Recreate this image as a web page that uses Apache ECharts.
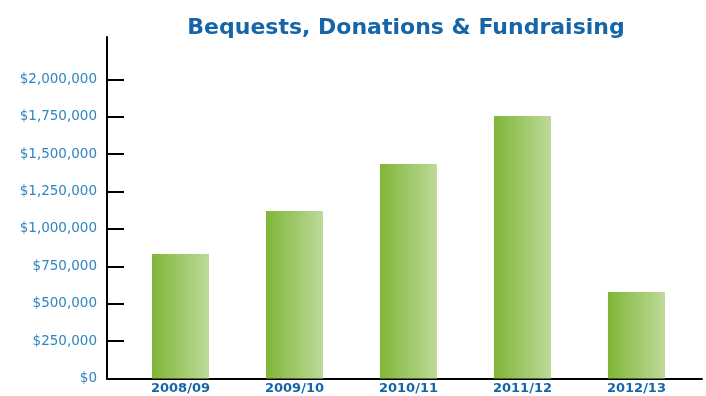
<!DOCTYPE html>
<html>
<head>
<meta charset="utf-8">
<script src="https://cdn.jsdelivr.net/npm/echarts@6/dist/echarts.min.js"></script>
<style>html,body{margin:0;padding:0;background:#fff}#c{width:706px;height:396px}</style>
</head>
<body>
<div id="c"></div>
<script>
const categories = ['2008/09', '2009/10', '2010/11', '2011/12', '2012/13'];
const values = [833000, 1120000, 1435000, 1756000, 579000];
const yTicks = [0, 250000, 500000, 750000, 1000000, 1250000, 1500000, 1750000, 2000000];
const titleText = 'Bequests, Donations & Fundraising';

const chart = echarts.init(document.getElementById('c'));
const fmt = v => '$' + v.toLocaleString('en-US');
chart.setOption({
  animation: false,
  title: {
    text: titleText,
    left: 401, top: 12, textAlign: 'center',
    textStyle: { fontFamily: 'DejaVu Sans', fontWeight: 'bold', fontSize: 22, color: '#1565a8' }
  },
  grid: { left: 107, right: 4, top: 37, bottom: 17.5 },
  xAxis: {
    type: 'value',
    min: -0.6447, max: 4.575,
    splitLine: { show: false },
    axisLine: { show: true, onZero: false, lineStyle: { color: '#000', width: 2 } },
    axisTick: { show: false },
    axisLabel: {
      customValues: categories.map((c, i) => i),
      formatter: v => categories[Math.round(v)] || '',
      fontFamily: 'DejaVu Sans', fontWeight: 'bold', fontSize: 13, color: '#1565a8', margin: 4
    }
  },
  yAxis: {
    type: 'value',
    min: 0, max: 2284000,
    splitLine: { show: false },
    axisLine: { show: true, onZero: false, lineStyle: { color: '#000', width: 2 } },
    axisTick: { show: true, inside: true, length: 17, customValues: yTicks, lineStyle: { color: '#000', width: 2 } },
    axisLabel: {
      customValues: yTicks, formatter: fmt,
      fontFamily: 'DejaVu Sans', fontSize: 13.5, color: '#2e86c1', margin: 10
    }
  },
  series: [{
    type: 'bar',
    barWidth: 57,
    data: values.map((v, i) => [i, v]),
    itemStyle: {
      color: new echarts.graphic.LinearGradient(0, 0, 1, 0, [
        { offset: 0, color: '#7fb637' },
        { offset: 1, color: '#bed999' }
      ])
    }
  }]
});
</script>
</body>
</html>
